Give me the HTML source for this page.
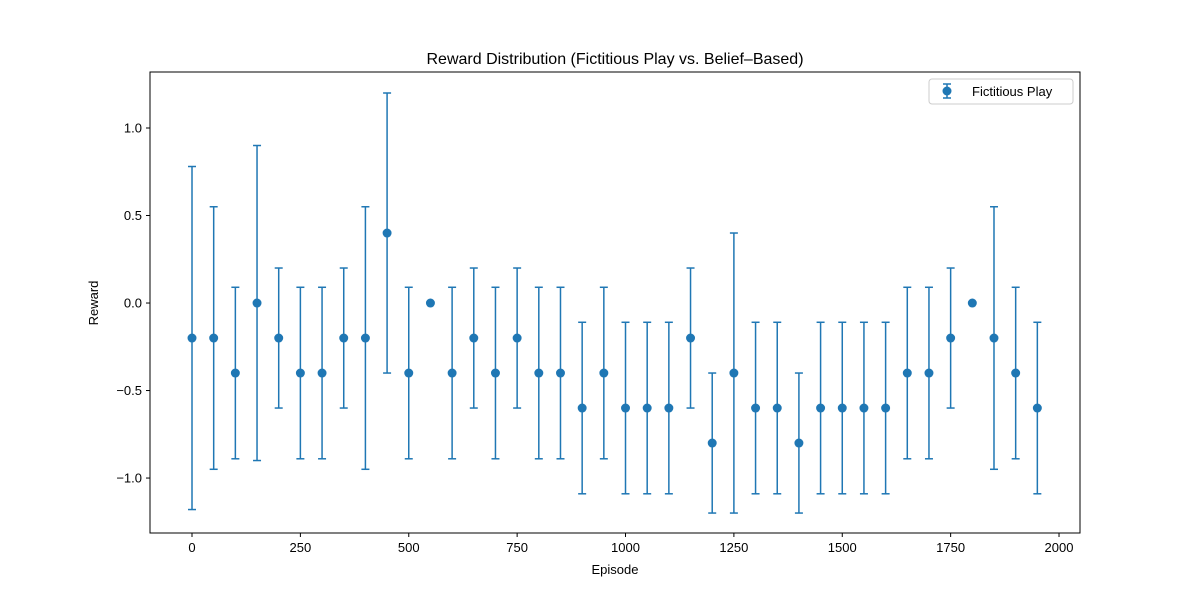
<!DOCTYPE html>
<html><head><meta charset="utf-8">
<style>
body{margin:0;background:#fff;}
svg{display:block;font-family:"Liberation Sans","DejaVu Sans",sans-serif;}
</style></head>
<body>
<svg id="chart" width="1200" height="600" xmlns="http://www.w3.org/2000/svg">
<rect width="1200" height="600" fill="#fff"/>
<text x="615" y="64" text-anchor="middle" font-size="16">Reward Distribution (Fictitious Play vs. Belief–Based)</text>
<text x="615" y="574" text-anchor="middle" font-size="13">Episode</text>
<text transform="translate(98,303) rotate(-90)" text-anchor="middle" font-size="13">Reward</text>
<g id="marks"></g>
<rect x="150" y="72" width="930" height="461" fill="none" stroke="#000" stroke-width="1"/>
<g>
<rect x="929" y="79" width="144" height="25" rx="3" fill="#fff" stroke="#ccc"/>
<line x1="947" y1="84" x2="947" y2="98" stroke="#1f77b4" stroke-width="1.5"/>
<line x1="943" y1="84" x2="951" y2="84" stroke="#1f77b4" stroke-width="1.5"/>
<line x1="943" y1="98" x2="951" y2="98" stroke="#1f77b4" stroke-width="1.5"/>
<circle cx="947" cy="91" r="4.5" fill="#1f77b4"/>
<text x="972" y="96" font-size="13">Fictitious Play</text>
</g>
</svg>
<script>
const episodes = [0,50,100,150,200,250,300,350,400,450,500,550,600,650,700,750,800,850,900,950,1000,1050,1100,1150,1200,1250,1300,1350,1400,1450,1500,1550,1600,1650,1700,1750,1800,1850,1900,1950];
const rewards = [-0.2,-0.2,-0.4,0,-0.2,-0.4,-0.4,-0.2,-0.2,0.4,-0.4,0,-0.4,-0.2,-0.4,-0.2,-0.4,-0.4,-0.6,-0.4,-0.6,-0.6,-0.6,-0.2,-0.8,-0.4,-0.6,-0.6,-0.8,-0.6,-0.6,-0.6,-0.6,-0.4,-0.4,-0.2,0,-0.2,-0.4,-0.6];
const errors = [0.98,0.75,0.49,0.9,0.4,0.49,0.49,0.4,0.75,0.8,0.49,0,0.49,0.4,0.49,0.4,0.49,0.49,0.49,0.49,0.49,0.49,0.49,0.4,0.4,0.8,0.49,0.49,0.4,0.49,0.49,0.49,0.49,0.49,0.49,0.4,0,0.75,0.49,0.49];
const xTicks = [0,250,500,750,1000,1250,1500,1750,2000];
const yTicks = [-1.0,-0.5,0.0,0.5,1.0];
const yTickLabels = ["−1.0","−0.5","0.0","0.5","1.0"];

const X0=150,X1=1080,Y0=72,Y1=533;
const xMin=-96.9,xMax=2048.4,yMin=-1.314,yMax=1.32;
const sx=v=>X0+(v-xMin)/(xMax-xMin)*(X1-X0);
const sy=v=>Y1-(v-yMin)/(yMax-yMin)*(Y1-Y0);
const NS="http://www.w3.org/2000/svg";
const g=document.getElementById('marks');
function mk(tag,attrs,parent){const e=document.createElementNS(NS,tag);for(const k in attrs)e.setAttribute(k,attrs[k]);(parent||g).appendChild(e);return e;}

xTicks.forEach(t=>{
  const x=sx(t);
  const tk=mk('line',{x1:x,x2:x,y1:Y1,y2:Y1+4,stroke:'#000'});
  
  
  const tx=mk('text',{x:x,y:Y1+19,'text-anchor':'middle','font-size':13});
  tx.textContent=t;
  
  
});
yTicks.forEach((t,i)=>{
  const y=sy(t);
  const tk=mk('line',{x1:X0-4,x2:X0,y1:y,y2:y,stroke:'#000'});
  
  
  const tx=mk('text',{x:X0-8,y:y+4.5,'text-anchor':'end','font-size':13});
  tx.textContent=yTickLabels[i];
  
  
});
episodes.forEach((ep,i)=>{
  const x=sx(ep),y=sy(rewards[i]),yt=sy(rewards[i]+errors[i]),yb=sy(rewards[i]-errors[i]);
  const grp=mk('g',{});
  
  
  if(errors[i]>0){
    mk('line',{x1:x,x2:x,y1:yt,y2:yb,stroke:'#1f77b4','stroke-width':1.5},grp);
    mk('line',{x1:x-4,x2:x+4,y1:yt,y2:yt,stroke:'#1f77b4','stroke-width':1.5},grp);
    mk('line',{x1:x-4,x2:x+4,y1:yb,y2:yb,stroke:'#1f77b4','stroke-width':1.5},grp);
  }
  mk('circle',{cx:x,cy:y,r:4.5,fill:'#1f77b4'},grp);
});
</script>
</body></html>
